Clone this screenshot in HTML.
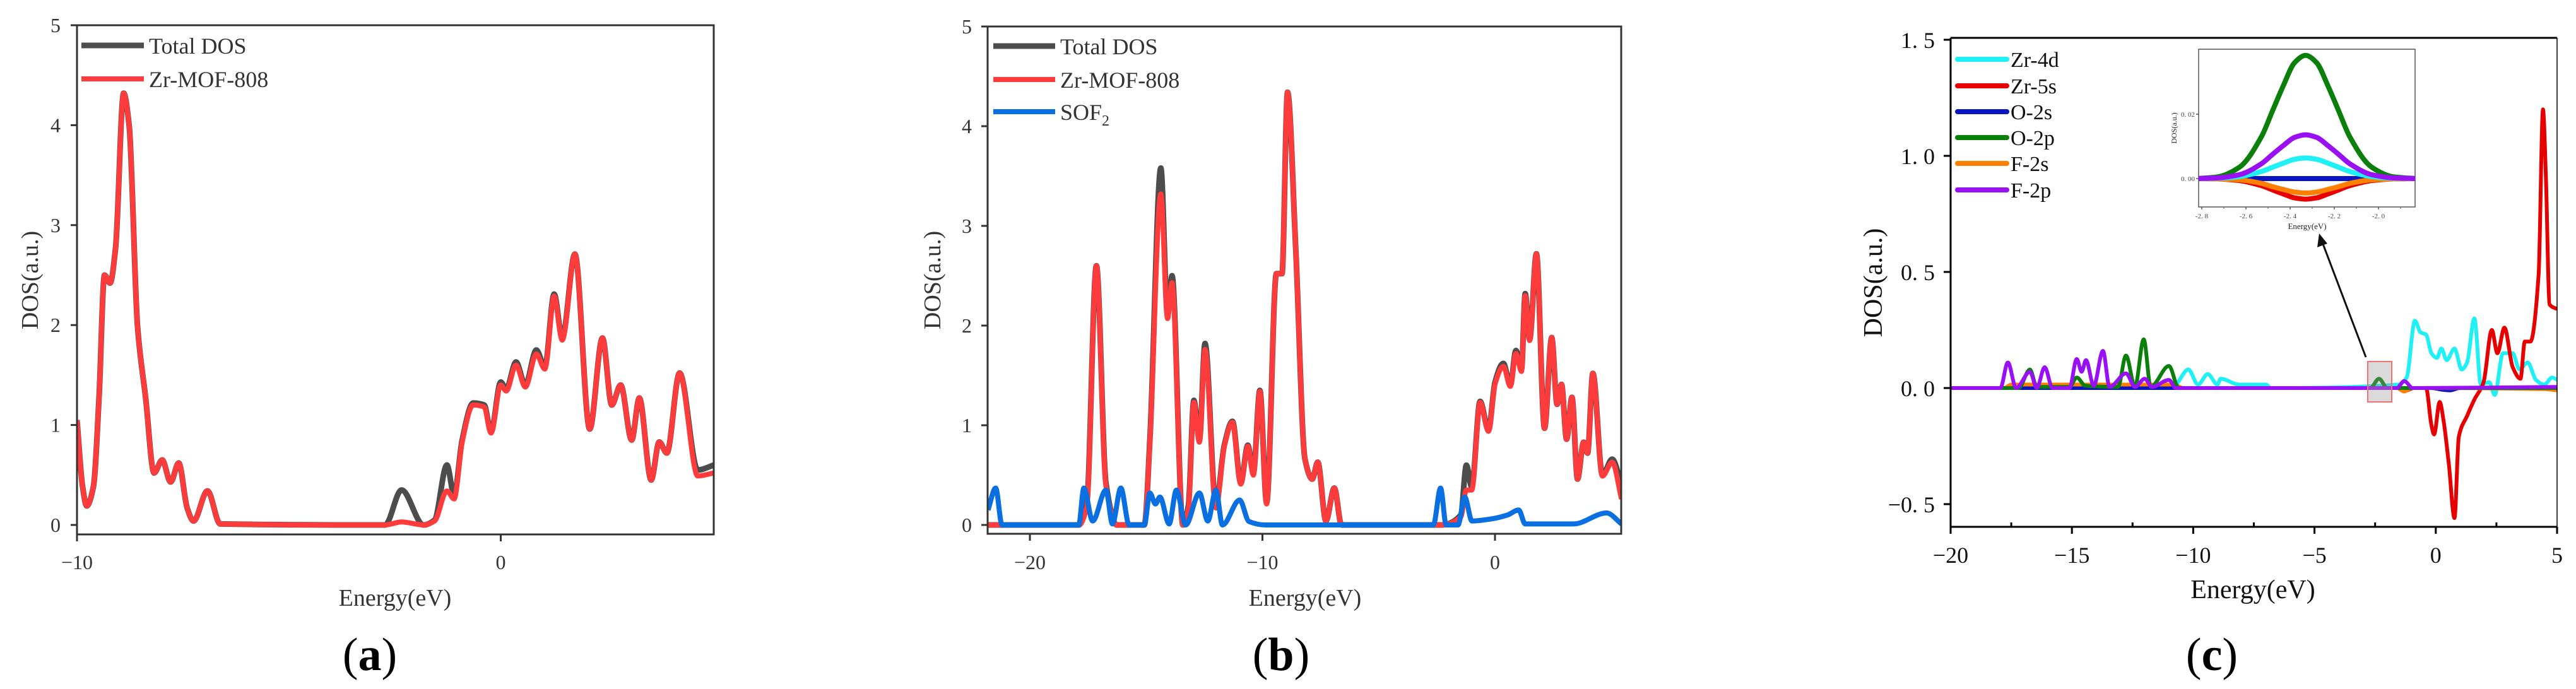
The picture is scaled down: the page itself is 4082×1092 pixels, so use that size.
<!DOCTYPE html>
<html><head><meta charset="utf-8">
<style>
html,body{margin:0;padding:0;background:#fff;}
svg{display:block;}
text{font-family:"Liberation Serif",serif;}
</style></head>
<body>
<svg id="fig" width="4082" height="1092" viewBox="0 0 4082 1092" xmlns="http://www.w3.org/2000/svg">
<defs>
<clipPath id="clipA"><rect x="122" y="40" width="1009" height="807"/></clipPath>
<clipPath id="clipB"><rect x="1565" y="42" width="1004" height="804"/></clipPath>
<clipPath id="clipC"><rect x="3091" y="60" width="961" height="775"/></clipPath>
<clipPath id="clipI"><rect x="3484" y="78" width="343" height="250"/></clipPath>
</defs>
<g id="panelA"></g>
<g id="panelB"></g>
<g id="panelC"></g>
</svg>
<script>
// ---------- Panel (a) data ----------
const aEnergy = [-10,-9.87,-9.77,-9.61,-9.48,-9.35,-9.22,-9.09,-8.9,-8.77,-8.57,-8.38,-8.18,-7.99,-7.79,-7.6,-7.4,-7.25,-6.92,-6.62,-2.73,-2.34,-1.82,-1.56,-1.27,-1.1,-0.91,-0.65,-0.39,-0.23,0,0.13,0.36,0.58,0.84,1.04,1.26,1.45,1.75,2.1,2.4,2.62,2.83,3.09,3.27,3.55,3.74,3.92,4.22,4.65,5.03];
const aZr = [1.05,0.39,0.19,0.39,1.27,2.5,2.42,2.77,4.32,4.0,1.98,1.27,0.52,0.65,0.43,0.62,0.17,0.04,0.34,0.01,0,0.03,0,0.04,0.34,0.26,0.83,1.2,1.18,0.92,1.4,1.34,1.6,1.38,1.71,1.56,2.29,1.85,2.71,0.96,1.87,1.2,1.4,0.85,1.27,0.45,0.83,0.72,1.52,0.49,0.52];
const aTotal = [1.05,0.39,0.19,0.39,1.27,2.5,2.42,2.77,4.32,4.0,1.98,1.27,0.52,0.65,0.43,0.62,0.17,0.04,0.34,0.01,0,0.35,0,0.05,0.6,0.3,0.85,1.22,1.2,0.93,1.43,1.36,1.63,1.4,1.75,1.58,2.31,1.87,2.71,0.96,1.87,1.2,1.4,0.85,1.27,0.45,0.83,0.72,1.52,0.55,0.6];
const aYTicks = [0,1,2,3,4,5];
const aXTicks = [-10,0];

// ---------- Panel (b) data ----------
const bEnergy = [-21.8,-17.9,-17.56,-17.14,-16.73,-16.26,-15.08,-14.84,-14.37,-14.08,-13.89,-13.42,-13.18,-12.95,-12.71,-12.47,-12.0,-11.64,-11.29,-10.93,-10.63,-10.39,-10.11,-9.82,-9.4,-9.16,-8.92,-8.57,-8.17,-7.86,-7.62,-7.27,-6.91,-6.6,-2.3,-1.47,-1.23,-1.0,-0.64,-0.28,0,0.36,0.66,0.9,1.14,1.3,1.49,1.78,2.13,2.44,2.67,2.86,3.08,3.31,3.55,3.81,3.98,4.21,4.62,5.04,5.44];
const bZr = [0,0,0.17,2.6,0.39,0,0,0.83,3.32,2.07,2.43,0,0.17,1.23,0.83,1.76,0.17,0.79,1.03,0.41,0.79,0.5,1.34,0.21,2.52,2.52,4.34,2.78,0.66,0.46,0.63,0.04,0.37,0,0,0.08,0.35,0.35,1.23,0.94,1.41,1.59,1.39,1.72,1.54,2.3,1.85,2.72,0.97,1.88,1.21,1.41,0.86,1.28,0.46,0.83,0.72,1.52,0.49,0.63,0.26];
const bTotal = [0,0,0.2,2.6,0.42,0,0,0.85,3.58,2.1,2.5,0,0.2,1.25,0.85,1.82,0.2,0.8,1.04,0.42,0.8,0.52,1.35,0.22,2.52,2.52,4.34,2.78,0.66,0.46,0.63,0.04,0.37,0,0,0.1,0.6,0.38,1.24,0.95,1.43,1.62,1.4,1.75,1.56,2.32,1.86,2.72,0.97,1.88,1.21,1.41,0.86,1.28,0.46,0.83,0.72,1.52,0.5,0.66,0.4];
const bSofEnergy = [-21.8,-21.47,-21.2,-17.9,-17.68,-17.3,-16.73,-16.45,-16.09,-15.73,-15.08,-14.84,-14.6,-14.41,-14.01,-13.7,-13.3,-12.71,-12.35,-12.0,-11.72,-10.98,-10.58,-9.87,-2.65,-2.34,-2.1,-1.59,-1.3,-0.99,-0.17,0.54,1.02,1.3,3.38,4.8,5.44];
const bSof = [0.15,0.37,0,0,0.37,0.04,0.35,0.01,0.37,0,0,0.32,0.21,0.28,0.01,0.35,0,0.32,0.04,0.35,0,0.25,0.035,0,0,0.37,0,0,0.28,0.04,0.06,0.1,0.15,0.01,0.01,0.12,0.01];
const bYTicks = [0,1,2,3,4,5];
const bXTicks = [-20,-10,0];

// ---------- Panel (c) data ----------
const cEnergy5s = [-20,-1.6,-1.3,-0.9,-0.4,-0.18,-0.07,0.16,0.32,0.54,0.77,0.95,1.29,1.59,1.97,2.31,2.54,2.83,3.17,3.49,3.67,3.9,4.24,4.42,4.54,4.69,5];
const cZr5s = [0,0,-0.013,0,0,-0.16,-0.2,-0.06,-0.14,-0.33,-0.56,-0.21,-0.12,-0.05,0.025,0.25,0.15,0.26,0.09,0.04,0.2,0.2,0.49,1.2,0.91,0.36,0.34];
const cEnergy4d = [-20,-11.8,-11.3,-10.8,-10.2,-9.8,-9.4,-9.0,-8.87,-8.1,-7.0,-6.8,-1.54,-1.2,-0.86,-0.63,-0.4,-0.18,0.05,0.23,0.45,0.77,1.07,1.29,1.59,1.86,2.2,2.43,2.77,3.17,3.45,3.79,4.13,4.47,4.8,5];
const cZr4d = [0,0,0.02,0.01,0.08,0.015,0.06,0.015,0.04,0.015,0.015,0,0.015,0.045,0.29,0.24,0.23,0.15,0.13,0.17,0.12,0.17,0.08,0.11,0.3,0.015,0.025,-0.03,0.15,0.15,0.08,0.11,0.035,0.015,0.045,0.035];
const cEnergyO2s = [-20,-0.2,0.3,0.6,1.0,5];
const cO2s = [0,0,-0.008,-0.01,0,0];
const cEnergyO2p = [-20,-17.2,-16.73,-16.45,-15.1,-14.8,-14.45,-13.1,-12.77,-12.4,-12.04,-11.75,-11.0,-10.6,-2.7,-2.34,-2.0,5];
const cO2p = [0,0,0.08,0.005,0.005,0.045,0.01,0.005,0.14,0.005,0.21,0.005,0.095,0,0,0.04,0,0];
const cEnergyF2s = [-20,-17.8,-17.5,-10.8,-10.4,-1.6,-1.3,-1.0,4.5,5];
const cF2s = [0,0,0.015,0.015,0,0,-0.015,0,-0.005,-0.01];
const cEnergyF2p = [-20,-17.95,-17.64,-17.3,-16.73,-16.45,-16.12,-15.8,-15.1,-14.8,-14.6,-14.42,-14.1,-13.72,-13.45,-12.77,-12.4,-12.0,-11.7,-11.0,-10.72,-1.6,-1.3,-0.95,5];
const cF2p = [0,0,0.11,0,0.07,0,0.09,0,0,0.125,0.07,0.12,0.01,0.16,0.005,0.063,0.005,0.04,0.005,0.035,0,0,0.03,0,0.005];
const cYTicks = [-0.5,0,0.5,1.0,1.5];
const cYTickLabels = ["\u22120. 5","0. 0","0. 5","1. 0","1. 5"];
const cXTicks = [-20,-15,-10,-5,0,5];
const cXTickLabels = ["\u221220","\u221215","\u221210","\u22125","0","5"];
const cXMinor = [-17.5,-12.5,-7.5,-2.5,2.5];

// ---------- Inset data ----------
const iEnergy = [-2.82,-2.73,-2.63,-2.53,-2.48,-2.43,-2.38,-2.33,-2.28,-2.23,-2.18,-2.13,-2.03,-1.93,-1.83];
const iO2p = [0,0.0005,0.0035,0.013,0.021,0.029,0.036,0.0383,0.036,0.029,0.021,0.013,0.0035,0.0005,0];
const iF2p = [0,0.0002,0.0012,0.0046,0.0075,0.0103,0.0128,0.0136,0.0128,0.0103,0.0075,0.0046,0.0012,0.0002,0];
const iZr4d = [0,0.0001,0.0006,0.0022,0.0035,0.0048,0.006,0.0064,0.006,0.0048,0.0035,0.0022,0.0006,0.0001,0];
const iF2s = [0,-0.0001,-0.0004,-0.0015,-0.0025,-0.0034,-0.0042,-0.0045,-0.0042,-0.0034,-0.0025,-0.0015,-0.0004,-0.0001,0];
const iZr5s = [0,-0.0001,-0.0006,-0.0022,-0.0035,-0.0048,-0.006,-0.0064,-0.006,-0.0048,-0.0035,-0.0022,-0.0006,-0.0001,0];
const iO2s = [0,0,0,0,0,0,0,0,0,0,0,0,0,0,0];
const iYTicks = [0, 0.02];
const iYTickLabels = ["0. 00","0. 02"];
const iXTicks = [-2.8,-2.6,-2.4,-2.2,-2.0];
const iXTickLabels = ["-2. 8","-2. 6","-2. 4","-2. 2","-2. 0"];
const iXMinor = [-2.7,-2.5,-2.3,-2.1,-1.9];

const NS = "http://www.w3.org/2000/svg";
function mk(tag, attrs, parent){
  const e = document.createElementNS(NS, tag);
  for (const k in attrs) e.setAttribute(k, attrs[k]);
  parent.appendChild(e);
  return e;
}
function linScale(d0,d1,r0,r1){ return v => r0 + (v-d0)*(r1-r0)/(d1-d0); }
// monotone cubic (Fritsch–Carlson) — no overshoot
function smoothPath(xs, ys, sx, sy){
  const X = xs.map(sx), Y = ys.map(sy), n = X.length;
  const d = [], m = new Array(n).fill(0);
  for (let i=0;i<n-1;i++) d.push((Y[i+1]-Y[i])/(X[i+1]-X[i]));
  m[0] = d[0]; m[n-1] = d[n-2];
  for (let i=1;i<n-1;i++){
    if (d[i-1]*d[i] <= 0) m[i] = 0;
    else {
      const h0 = X[i]-X[i-1], h1 = X[i+1]-X[i];
      const w1 = 2*h1+h0, w2 = h1+2*h0;
      m[i] = (w1+w2)/(w1/d[i-1] + w2/d[i]);
    }
  }
  let p = "M"+X[0].toFixed(1)+","+Y[0].toFixed(1);
  for (let i=0;i<n-1;i++){
    const h = (X[i+1]-X[i])/3;
    p += " C"+(X[i]+h).toFixed(1)+","+(Y[i]+m[i]*h).toFixed(1)+" "+(X[i+1]-h).toFixed(1)+","+(Y[i+1]-m[i+1]*h).toFixed(1)+" "+X[i+1].toFixed(1)+","+Y[i+1].toFixed(1);
  }
  return p;
}
function txt(parent, x, y, s, size, anchor, extra){
  const t = mk("text", Object.assign({x:x, y:y, "font-size":size, "text-anchor":anchor||"middle", fill:"#333"}, extra||{}), parent);
  t.textContent = s;
  return t;
}

// ===== Panel A =====
(function(){
  const g = document.getElementById("panelA");
  const sx = linScale(-10, 0, 122, 793.5), sy = linScale(0, 5, 832, 40);
  const series = mk("g", {"clip-path":"url(#clipA)"}, g);
  const pt = mk("path", {d: smoothPath(aEnergy, aTotal, sx, sy), fill:"none", stroke:"#4d4d4d", "stroke-width":9, "stroke-linejoin":"round"}, series);
  
  
  const pz = mk("path", {d: smoothPath(aEnergy, aZr, sx, sy), fill:"none", stroke:"#ff3b3b", "stroke-width":8, "stroke-linejoin":"round"}, series);
  
  
  const fr = mk("rect", {x:122, y:40, width:1009, height:807, fill:"none", stroke:"#333", "stroke-width":3}, g);
  
  
  aYTicks.forEach(v=>{
    mk("line", {x1:112, x2:122, y1:sy(v), y2:sy(v), stroke:"#333", "stroke-width":3}, g);
    const t = txt(g, 96, sy(v)+11, String(v), 32, "end");
    
    
  });
  aXTicks.forEach(v=>{
    mk("line", {x1:sx(v), x2:sx(v), y1:847, y2:858, stroke:"#333", "stroke-width":3}, g);
    const t = txt(g, sx(v), 902, v<0?"\u2212"+Math.abs(v):String(v), 32);
    
    
  });
  const xt = txt(g, 626, 960, "Energy(eV)", 38);
  
  
  const yt = txt(g, 0, 0, "DOS(a.u.)", 38, "middle", {transform:"translate(60,444) rotate(-90)"});
  
  
  const lg = mk("g", {}, g);
  
  
  mk("line", {x1:129, x2:228, y1:72, y2:72, stroke:"#4d4d4d", "stroke-width":9}, lg);
  txt(lg, 236, 85, "Total DOS", 36, "start");
  mk("line", {x1:129, x2:228, y1:125, y2:125, stroke:"#ff3b3b", "stroke-width":8}, lg);
  txt(lg, 236, 138, "Zr-MOF-808", 36, "start");
  const cap = mk("text", {x:586, y:1062, "font-size":74, "text-anchor":"middle", fill:"#000"}, g);
  cap.innerHTML = '(<tspan font-weight="bold">a</tspan>)';
  
  
})();

// ===== Panel B =====
(function(){
  const g = document.getElementById("panelB");
  const sx = linScale(-20, 0, 1632, 2369), sy = linScale(0, 5, 832, 42);
  const series = mk("g", {"clip-path":"url(#clipB)"}, g);
  const pt = mk("path", {d: smoothPath(bEnergy, bTotal, sx, sy), fill:"none", stroke:"#4d4d4d", "stroke-width":9, "stroke-linejoin":"round"}, series);
  
  
  const pz = mk("path", {d: smoothPath(bEnergy, bZr, sx, sy), fill:"none", stroke:"#ff3b3b", "stroke-width":8, "stroke-linejoin":"round"}, series);
  
  
  const ps = mk("path", {d: smoothPath(bSofEnergy, bSof, sx, sy), fill:"none", stroke:"#0a6fe0", "stroke-width":8, "stroke-linejoin":"round"}, series);
  
  
  const fr = mk("rect", {x:1565, y:42, width:1004, height:804, fill:"none", stroke:"#333", "stroke-width":3}, g);
  
  
  bYTicks.forEach(v=>{
    mk("line", {x1:1555, x2:1565, y1:sy(v), y2:sy(v), stroke:"#333", "stroke-width":3}, g);
    const t = txt(g, 1540, sy(v)+11, String(v), 32, "end");
    
    
  });
  bXTicks.forEach(v=>{
    mk("line", {x1:sx(v), x2:sx(v), y1:846, y2:857, stroke:"#333", "stroke-width":3}, g);
    const t = txt(g, sx(v), 902, v<0?"\u2212"+Math.abs(v):String(v), 32);
    
    
  });
  const xt = txt(g, 2068, 960, "Energy(eV)", 38);
  
  
  const yt = txt(g, 0, 0, "DOS(a.u.)", 38, "middle", {transform:"translate(1490,444) rotate(-90)"});
  
  
  const lg = mk("g", {}, g);
  
  
  mk("line", {x1:1574, x2:1672, y1:73, y2:73, stroke:"#4d4d4d", "stroke-width":9}, lg);
  txt(lg, 1680, 86, "Total DOS", 36, "start");
  mk("line", {x1:1574, x2:1672, y1:126, y2:126, stroke:"#ff3b3b", "stroke-width":8}, lg);
  txt(lg, 1680, 139, "Zr-MOF-808", 36, "start");
  mk("line", {x1:1574, x2:1672, y1:177, y2:177, stroke:"#0a6fe0", "stroke-width":8}, lg);
  const s = txt(lg, 1680, 190, "SOF", 36, "start");
  s.innerHTML = 'SOF<tspan font-size="24" dy="9">2</tspan>';
  const cap = mk("text", {x:2030, y:1062, "font-size":74, "text-anchor":"middle", fill:"#000"}, g);
  cap.innerHTML = '(<tspan font-weight="bold">b</tspan>)';
  
  
})();

// ===== Panel C =====
(function(){
  const g = document.getElementById("panelC");
  const sx = linScale(-20, 5, 3091, 4052), sy = linScale(0, 0.5, 615, 431);
  const series = mk("g", {"clip-path":"url(#clipC)"}, g);
  const defs = [
    [cEnergy4d, cZr4d, "#1ff0f5", "zr-4d-line"],
    [cEnergy5s, cZr5s, "#e60000", "zr-5s-line"],
    [cEnergyO2s, cO2s, "#0a14c0", "o-2s-line"],
    [cEnergyF2s, cF2s, "#ff8000", "f-2s-line"],
    [cEnergyO2p, cO2p, "#0a800a", "o-2p-line"],
    [cEnergyF2p, cF2p, "#9a10f5", "f-2p-line"]
  ];
  defs.forEach(d=>{
    const p = mk("path", {d: smoothPath(d[0], d[1], sx, sy), fill:"none", stroke:d[2], "stroke-width":6, "stroke-linejoin":"round"}, series);
    
    
  });
  const ax = mk("g", {}, g);
  
  
  mk("line", {x1:3091, x2:4052, y1:60, y2:60, stroke:"#000", "stroke-width":3}, ax);
  mk("line", {x1:3091, x2:4052, y1:835, y2:835, stroke:"#000", "stroke-width":3}, ax);
  mk("line", {x1:3091, x2:3091, y1:60, y2:835, stroke:"#000", "stroke-width":3}, ax);
  mk("line", {x1:4052, x2:4052, y1:60, y2:835, stroke:"#000", "stroke-width":1.5}, ax);
  cYTicks.forEach((v,i)=>{
    mk("line", {x1:3080, x2:3091, y1:sy(v), y2:sy(v), stroke:"#000", "stroke-width":3}, ax);
    const t = txt(ax, 3066, sy(v)+13, cYTickLabels[i], 36, "end", {fill:"#111"});
    
    
  });
  cXTicks.forEach((v,i)=>{
    mk("line", {x1:sx(v), x2:sx(v), y1:835, y2:846, stroke:"#000", "stroke-width":3}, ax);
    const t = txt(ax, sx(v), 892, cXTickLabels[i], 36, "middle", {fill:"#111"});
    
    
  });
  cXMinor.forEach(v=>{
    mk("line", {x1:sx(v), x2:sx(v), y1:828, y2:835, stroke:"#000", "stroke-width":3}, ax);
  });
  const xt = txt(g, 3570, 948, "Energy(eV)", 42, "middle", {fill:"#111"});
  
  
  const yt = txt(g, 0, 0, "DOS(a.u.)", 42, "middle", {transform:"translate(2982,448) rotate(-90)", fill:"#111"});
  
  
  const lg = mk("g", {}, g);
  
  
  const lgItems = [["Zr-4d","#1ff0f5"],["Zr-5s","#e60000"],["O-2s","#0a14c0"],["O-2p","#0a800a"],["F-2s","#ff8000"],["F-2p","#9a10f5"]];
  const lgY = [94,136,177,218,259,301];
  lgItems.forEach((it,i)=>{
    const e = mk("g", {}, lg);
    
    
    mk("line", {x1:3102, x2:3180, y1:lgY[i], y2:lgY[i], stroke:it[1], "stroke-width":8, "stroke-linecap":"round"}, e);
    txt(e, 3186, lgY[i]+12, it[0], 34, "start", {fill:"#111"});
  });
  const hb = mk("rect", {x:3752, y:573, width:38, height:64, fill:"rgba(150,150,150,0.35)", stroke:"#f07070", "stroke-width":2}, g);
  
  
  const ar = mk("line", {x1:3749, y1:566, x2:3680, y2:384, stroke:"#111", "stroke-width":3}, g);
  
  
  mk("polygon", {points:"3675,370 3672,392 3688,386", fill:"#111"}, g);

  const ig = mk("g", {}, g);
  
  
  mk("rect", {x:3484, y:78, width:343, height:250, fill:"#fff", stroke:"#555", "stroke-width":1.5}, ig);
  const ix = linScale(-2.8, -2.0, 3489, 3769), iy = linScale(0, 0.02, 283, 181);
  const is = mk("g", {"clip-path":"url(#clipI)"}, ig);
  const idefs = [
    [iO2s, "#0a14c0", "inset-o-2s-line"],
    [iZr5s, "#e60000", "inset-zr-5s-line"],
    [iF2s, "#ff8000", "inset-f-2s-line"],
    [iZr4d, "#1ff0f5", "inset-zr-4d-line"],
    [iO2p, "#0a800a", "inset-o-2p-line"],
    [iF2p, "#9a10f5", "inset-f-2p-line"]
  ];
  idefs.forEach(d=>{
    const p = mk("path", {d: smoothPath(iEnergy, d[0], ix, iy), fill:"none", stroke:d[1], "stroke-width":8, "stroke-linejoin":"round"}, is);
    
    
  });
  iYTicks.forEach((v,i)=>{
    mk("line", {x1:3480, x2:3484, y1:iy(v), y2:iy(v), stroke:"#555", "stroke-width":1.5}, ig);
    const t = txt(ig, 3478, iy(v)+4, iYTickLabels[i], 11, "end", {fill:"#444"});
    
    
  });
  iXTicks.forEach((v,i)=>{
    mk("line", {x1:ix(v), x2:ix(v), y1:328, y2:332, stroke:"#555", "stroke-width":1.5}, ig);
    const t = txt(ig, ix(v), 346, iXTickLabels[i], 11, "middle", {fill:"#444"});
    
    
  });
  iXMinor.forEach(v=>{
    mk("line", {x1:ix(v), x2:ix(v), y1:328, y2:331, stroke:"#555", "stroke-width":1}, ig);
  });
  const ixt = txt(ig, 3656, 363, "Energy(eV)", 13, "middle", {fill:"#222"});
  
  
  const iyt = txt(ig, 0, 0, "DOS(a.u.)", 12, "middle", {transform:"translate(3449,203) rotate(-90)", fill:"#222"});
  
  

  const cap = mk("text", {x:3505, y:1062, "font-size":74, "text-anchor":"middle", fill:"#000"}, g);
  cap.innerHTML = '(<tspan font-weight="bold">c</tspan>)';
  
  
})();
</script>
</body></html>
